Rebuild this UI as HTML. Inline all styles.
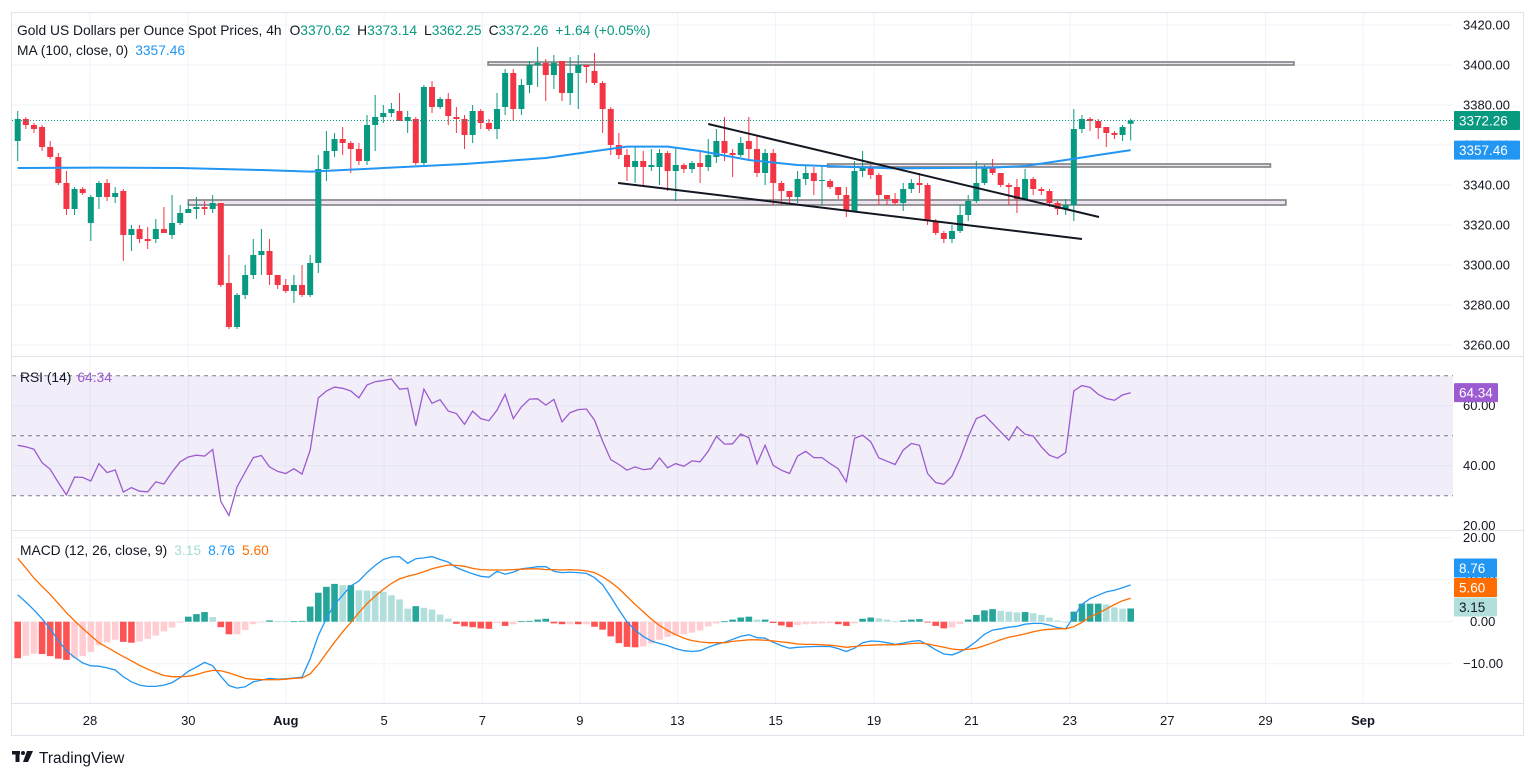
<!DOCTYPE html>
<html><head><meta charset="utf-8"><title>Gold 4h chart</title>
<style>
html,body{margin:0;padding:0;background:#fff;}
body{width:1536px;height:777px;overflow:hidden;font-family:"Liberation Sans",sans-serif;}
svg text{font-family:"Liberation Sans",sans-serif;}
</style></head>
<body>
<svg id="chart" width="1536" height="777" viewBox="0 0 1536 777" xmlns="http://www.w3.org/2000/svg">
  <rect x="0" y="0" width="1536" height="777" fill="#ffffff"/>
  <g id="grid"></g>
  <g id="zones"></g>
  <g id="candles"></g>
  <g id="overlays"></g>
  <g id="rsi"></g>
  <g id="macd"></g>
  <g id="axes"></g>
  <rect x="11.5" y="12.5" width="1512" height="723" fill="none" stroke="#e0e3eb" stroke-width="1"/>
  <line x1="12" y1="356.5" x2="1524" y2="356.5" stroke="#e0e3eb" stroke-width="1"/>
  <line x1="12" y1="530.5" x2="1524" y2="530.5" stroke="#e0e3eb" stroke-width="1"/>
  <line x1="12" y1="703.5" x2="1524" y2="703.5" stroke="#e0e3eb" stroke-width="1"/>
  <g font-size="13.8">
    <text x="17" y="35" fill="#131722">Gold US Dollars per Ounce Spot Prices, 4h<tspan dx="8" fill="#131722">O</tspan><tspan fill="#089981">3370.62</tspan><tspan dx="7" fill="#131722">H</tspan><tspan fill="#089981">3373.14</tspan><tspan dx="7" fill="#131722">L</tspan><tspan fill="#089981">3362.25</tspan><tspan dx="7" fill="#131722">C</tspan><tspan fill="#089981">3372.26</tspan><tspan dx="7" fill="#089981">+1.64 (+0.05%)</tspan></text>
    <text x="17" y="55" fill="#131722">MA (100, close, 0)<tspan dx="7" fill="#2196f3">3357.46</tspan></text>
    <text x="20" y="382" fill="#131722">RSI (14)<tspan dx="6" fill="#9c5bd0">64.34</tspan></text>
    <text x="20" y="555" fill="#131722">MACD (12, 26, close, 9)<tspan dx="7" fill="#a8ddd6">3.15</tspan><tspan dx="7" fill="#2196f3">8.76</tspan><tspan dx="7" fill="#ff6d00">5.60</tspan></text>
  </g>
  <g>
    <rect x="12" y="751" width="8" height="3.5" fill="#131722"/>
    <rect x="15.5" y="751" width="4" height="11" fill="#131722"/>
    <circle cx="23" cy="753" r="2" fill="#131722"/>
    <polygon points="27,751 33,751 28,762 23,762" fill="#131722"/>
    <text x="39" y="763" font-size="15.5" fill="#131722">TradingView</text>
  </g>
</svg>
<script>
// ---- data ----
const opens  = [3362,3373,3370,3369,3359,3354,3341,3328,3338,3321,3334,3341,3334,3337,3315,3318,3313,3313,3318,3315,3321,3326,3328,3329,3328,3331,3291,3269,3285,3295,3305,3307,3295,3290,3287,3290,3285,3301,3348,3357,3363,3361,3358,3352,3370,3374,3376,3377,3372,3373,3351,3389,3379,3383,3374,3373,3365,3377,3371,3368,3379,3396,3378,3390,3400,3401,3395,3402,3386,3396,3400,3397,3391,3378,3360,3355,3349,3352,3349,3349,3356,3347,3350,3348,3351,3349,3354,3362,3356,3355,3362,3358,3346,3356,3341,3337,3334,3343,3346,3342,3342,3339,3335,3327,3347,3349,3345,3335,3333,3331,3338,3341,3340,3322,3316,3313,3317,3325,3332,3341,3349,3346,3340,3339,3333,3343,3338,3337,3331,3328,3330,3368,3373,3372,3369,3366,3365,3370.62];
const highs  = [3377,3374,3371,3370,3362,3356,3347,3339,3339,3335,3342,3343,3339,3338,3320,3320,3319,3323,3329,3335,3330,3331,3334,3332,3335,3331,3305,3286,3300,3313,3318,3313,3295,3293,3295,3300,3305,3355,3367,3366,3369,3362,3361,3375,3385,3380,3381,3386,3377,3374,3390,3392,3384,3386,3379,3375,3380,3378,3373,3386,3398,3398,3393,3402,3409,3403,3405,3402,3404,3405,3400,3406,3392,3379,3366,3358,3359,3357,3358,3358,3357,3359,3351,3352,3357,3363,3368,3374,3358,3364,3374,3365,3358,3358,3342,3337,3347,3350,3349,3350,3343,3339,3339,3352,3357,3350,3346,3335,3336,3341,3343,3346,3341,3323,3317,3320,3330,3335,3352,3350,3353,3346,3341,3343,3348,3344,3339,3338,3332,3333,3378,3375,3374,3373,3369,3367,3370,3373.14];
const lows   = [3352,3368,3366,3357,3353,3340,3325,3325,3335,3312,3328,3332,3331,3302,3307,3311,3308,3311,3316,3313,3320,3326,3323,3325,3326,3289,3268,3268,3283,3293,3295,3290,3288,3286,3281,3284,3284,3296,3342,3354,3355,3346,3350,3350,3357,3371,3374,3372,3366,3350,3350,3376,3378,3370,3366,3358,3361,3368,3367,3363,3375,3372,3375,3386,3389,3382,3388,3382,3380,3378,3391,3390,3366,3355,3353,3342,3341,3340,3347,3340,3337,3332,3346,3346,3341,3347,3351,3352,3344,3354,3352,3344,3340,3330,3330,3330,3331,3340,3335,3330,3338,3333,3324,3327,3344,3343,3330,3330,3330,3327,3336,3336,3320,3315,3311,3311,3316,3322,3331,3340,3345,3339,3330,3326,3333,3335,3335,3329,3325,3325,3322,3366,3367,3363,3359,3363,3362,3362.25];
const closes = [3373,3370,3368,3359,3354,3341,3328,3338,3336,3334,3341,3334,3336,3315,3318,3313,3312,3318,3316,3321,3326,3328,3329,3328,3331,3290,3269,3285,3295,3305,3307,3295,3290,3287,3290,3285,3301,3348,3357,3363,3361,3358,3352,3370,3374,3376,3378,3372,3374,3351,3389,3379,3383,3374.5,3373,3365,3377,3371,3368,3378,3396,3378,3390,3400,3401,3395,3401,3386,3396,3400,3399,3391,3378,3360,3355,3349,3352,3349,3350,3356,3347,3350,3348,3351,3349,3355,3362,3356,3355,3361,3358,3346,3356,3341,3337,3334,3343,3346,3342,3342.5,3339,3335,3327,3347,3349,3345,3335,3333,3331,3338,3341,3340,3322,3316,3313,3317,3325,3332,3341,3349,3346,3340,3339,3333,3343,3338,3337,3331,3328,3330,3368,3373,3372,3368.5,3366,3365,3369,3372.26];

const maIdx = [0,10,20,30,36,45,55,65,72,75,80,84,90,96,108,120,124,129,133,137];
const maVal = [3348.5,3348.7,3348.5,3347.5,3346.7,3348.5,3350.5,3353.5,3357.5,3359.2,3359.2,3357,3352.5,3350,3348.3,3348.7,3349.5,3352.5,3355,3357.46];

const rsiVals = [46.8,46.3,45.5,41.0,38.8,34.4,30.3,36.2,36.1,34.9,40.7,37.7,38.6,31.2,32.7,31.5,31.3,34.6,33.9,37.9,41.3,42.9,43.5,43.2,45.4,28.1,23.4,32.9,37.9,42.7,43.4,39.6,38.1,37.4,39.0,37.2,45.2,62.6,64.9,66.2,65.8,64.9,62.6,66.9,68.0,68.4,68.9,65.5,65.8,53.3,65.5,60.8,62.0,58.2,57.4,53.8,58.2,55.7,55.0,58.5,63.8,55.7,59.6,62.2,62.3,60.2,62.1,54.6,57.7,58.7,58.9,55.2,48.2,42.0,40.4,38.5,39.6,38.7,39.0,42.6,39.3,40.7,39.8,41.6,41.3,44.8,49.8,47.2,47.3,50.6,49.3,40.6,46.8,40.1,38.5,37.4,43.2,44.8,42.7,42.7,40.7,39.0,34.6,49.1,50.2,48.0,42.6,41.5,40.4,45.2,47.4,46.8,37.4,34.4,33.8,36.5,42.4,49.6,55.7,56.9,54.1,51.3,48.5,53.0,50.5,49.9,46.3,43.5,42.5,44.4,64.9,66.7,66.1,63.8,62.4,61.8,63.6,64.34];

const macdVals = [6.4,4.7,2.8,0.7,-1.7,-4.5,-6.9,-8.5,-9.8,-10.5,-10.6,-11.0,-11.5,-13.1,-14.3,-15.1,-15.4,-15.4,-15.1,-14.5,-13.3,-11.8,-10.8,-9.7,-10.5,-13.0,-15.2,-15.8,-15.5,-14.3,-13.9,-13.5,-13.7,-13.6,-13.4,-13.2,-8.8,-3.3,0.8,4.1,6.3,8.5,9.7,11.7,13.4,14.8,15.4,15.5,13.9,15.0,15.2,15.5,14.8,14.2,12.9,12.1,11.4,10.8,10.6,12.0,11.3,11.8,12.6,12.8,13.1,13.1,12.0,11.7,11.8,11.7,11.5,10.5,8.8,5.9,2.8,0.0,-2.0,-3.5,-4.6,-5.2,-5.7,-6.4,-6.9,-7.1,-6.9,-6.1,-5.4,-4.9,-4.2,-3.5,-3.1,-3.8,-3.9,-4.9,-5.7,-6.3,-6.1,-6.0,-5.9,-5.9,-5.9,-6.4,-7.1,-6.3,-5.0,-4.6,-4.7,-5.0,-5.4,-5.1,-4.7,-4.5,-5.5,-6.7,-7.7,-7.9,-7.2,-6.1,-4.7,-3.0,-2.0,-1.7,-1.3,-1.1,-0.6,-0.4,-0.4,-0.8,-1.4,-1.7,1.2,4.1,5.5,6.3,7.1,7.5,8.1,8.7555];
const signalVals = [15.1,12.8,10.4,8.4,6.5,4.3,2.2,0.2,-1.6,-3.3,-5.0,-6.1,-7.2,-8.3,-9.3,-10.4,-11.3,-12.1,-12.8,-13.1,-13.1,-13.0,-12.6,-12.0,-11.6,-11.7,-12.2,-12.8,-13.5,-13.7,-13.8,-13.8,-13.8,-13.7,-13.5,-13.4,-12.4,-10.2,-7.5,-4.9,-2.4,-0.2,2.2,4.3,6.1,7.7,9.1,10.2,10.8,11.3,11.9,12.6,13.1,13.5,13.4,13.2,12.7,12.4,12.3,12.3,12.3,12.4,12.5,12.6,12.6,12.4,12.4,12.3,12.4,12.3,12.1,11.7,10.7,9.4,7.9,6.0,4.1,2.4,0.6,-0.9,-2.1,-3.1,-3.9,-4.5,-4.8,-5.0,-5.0,-5.0,-4.7,-4.5,-4.3,-4.3,-4.4,-4.6,-4.8,-5.0,-5.3,-5.4,-5.4,-5.5,-5.6,-5.8,-6.1,-5.9,-5.7,-5.6,-5.5,-5.5,-5.5,-5.4,-5.2,-5.1,-5.3,-5.7,-6.1,-6.5,-6.7,-6.6,-6.3,-5.7,-5.0,-4.3,-3.7,-3.3,-2.9,-2.4,-2.0,-1.8,-1.7,-1.7,-1.2,-0.2,1.2,2.0,3.0,4.1,5.0,5.604];

const zoneStart = [57.9, 99.7, 21.0];
const zoneEnd   = [157.1, 154.2, 156.1];
const zoneTop   = [3401.5, 3350.5, 3332.5];
const zoneBot   = [3400.0, 3349.0, 3330.0];

const trendStartIdx = [85.0, 73.9];
const trendStartPx  = [3370.5, 3341];
const trendEndIdx   = [133.1, 131.0];
const trendEndPx    = [3324, 3313];

const priceTicks = [3420,3400,3380,3360,3340,3320,3300,3280,3260];
const rsiTicks = [60,40,20];
const macdTicks = [20,10,0,-10];
const timeLabels = ["28","30","Aug","5","7","9","13","15","19","21","23","27","29","Sep"];
const timeIdx = [8.9,21.0,33.0,45.1,57.2,69.2,81.2,93.3,105.4,117.4,129.5,141.5,153.6,165.6];

// ---- axis functions ----
const PLOT_L = 12, PLOT_R = 1453;
function xi(i){ return 17.7 + 8.124 * i; }
function yP(p){ return 25 + (3420 - p) * 2; }
function yR(v){ return 375.7 + (70 - v) * 3; }
function yM(v){ return 621.7 - v * 4.2; }

const NS = "http://www.w3.org/2000/svg";
function mk(tag, parent, attrs){
  const el = document.createElementNS(NS, tag);
  for (const k in attrs) el.setAttribute(k, attrs[k]);
  parent.appendChild(el);
  return el;
}
const gGrid = document.getElementById('grid');
const gZones = document.getElementById('zones');
const gC = document.getElementById('candles');
const gO = document.getElementById('overlays');
const gR = document.getElementById('rsi');
const gM = document.getElementById('macd');
const gA = document.getElementById('axes');

// grid
priceTicks.forEach(p => {
  const l = mk('line', gGrid, {x1:PLOT_L, x2:PLOT_R, y1:yP(p), y2:yP(p), stroke:'#f0f3fa', 'stroke-width':1});
  
  
});
rsiTicks.slice(0,2).forEach(v => {
  const l = mk('line', gGrid, {x1:PLOT_L, x2:PLOT_R, y1:yR(v), y2:yR(v), stroke:'#f0f3fa', 'stroke-width':1});
  
  
});
macdTicks.forEach(v => {
  const l = mk('line', gGrid, {x1:PLOT_L, x2:PLOT_R, y1:yM(v), y2:yM(v), stroke:'#f0f3fa', 'stroke-width':1});
  
  
});
timeIdx.forEach(t => {
  const l = mk('line', gGrid, {x1:xi(t), x2:xi(t), y1:13, y2:703, stroke:'#f0f3fa', 'stroke-width':1});
  
  
});

// RSI band
const band = mk('rect', gR, {x:PLOT_L, y:yR(70), width:PLOT_R-PLOT_L, height:yR(30)-yR(70), fill:'rgba(126,87,194,0.1)'});


[70,50,30].forEach(v => {
  const l = mk('line', gR, {x1:PLOT_L, x2:PLOT_R, y1:yR(v), y2:yR(v), stroke:'#787b86', 'stroke-width':1, 'stroke-dasharray':'4,4'});
  
  
});

// zones
for (let k = 0; k < zoneStart.length; k++){
  const r = mk('rect', gZones, {x:xi(zoneStart[k]), y:yP(zoneTop[k]), width:xi(zoneEnd[k])-xi(zoneStart[k]), height:Math.max(2, yP(zoneBot[k])-yP(zoneTop[k])), fill:'#ece4f0', stroke:'#808080', 'stroke-width':1.6});
  
  
}

// MA line
let maPts = maIdx.map((i,k) => xi(i).toFixed(1) + ',' + yP(maVal[k]).toFixed(1)).join(' ');
const maLine = mk('polyline', gO, {points: maPts, fill:'none', stroke:'#2196f3', 'stroke-width':2, 'stroke-linejoin':'round'});



// candles
for (let i = 0; i < closes.length; i++){
  const up = closes[i] >= opens[i];
  const col = up ? '#089981' : '#f23645';
  const x = xi(i);
  const w = mk('line', gC, {x1:x, x2:x, y1:yP(highs[i]), y2:yP(lows[i]), stroke:col, 'stroke-width':1});
  
  
  const top = yP(Math.max(opens[i], closes[i])), bot = yP(Math.min(opens[i], closes[i]));
  const b = mk('rect', gC, {x:x-3, y:top, width:6, height:Math.max(1, bot-top), fill:col});
  
  
}

// trendlines
for (let k = 0; k < trendStartIdx.length; k++){
  const l = mk('line', gO, {x1:xi(trendStartIdx[k]), y1:yP(trendStartPx[k]), x2:xi(trendEndIdx[k]), y2:yP(trendEndPx[k]), stroke:'#131722', 'stroke-width':2});
  
  
}

// last price line
const lastP = closes[closes.length-1];
const lp = mk('line', gO, {x1:PLOT_L, x2:PLOT_R, y1:yP(lastP), y2:yP(lastP), stroke:'#089981', 'stroke-width':1, 'stroke-dasharray':'1,2'});



// RSI line
const rsiPts = rsiVals.map((v,i) => xi(i).toFixed(1) + ',' + yR(v).toFixed(1)).join(' ');
const rl = mk('polyline', gR, {points: rsiPts, fill:'none', stroke:'#9c5bd0', 'stroke-width':1.3});



// MACD histogram
let prevH = null;
for (let i = 0; i < macdVals.length; i++){
  const h = macdVals[i] - signalVals[i];
  let col;
  if (h >= 0) col = (prevH === null || h >= prevH) ? '#26a69a' : '#b2dfdb';
  else col = (prevH === null || h < prevH) ? '#ff5252' : '#ffcdd2';
  prevH = h;
  const y0 = yM(0), y1 = yM(h);
  const r = mk('rect', gM, {x:xi(i)-3.3, y:Math.min(y0,y1), width:6.6, height:Math.max(0.8, Math.abs(y1-y0)), fill:col});
  
  
}
const mPts = macdVals.map((v,i) => xi(i).toFixed(1) + ',' + yM(v).toFixed(1)).join(' ');
const ml = mk('polyline', gM, {points:mPts, fill:'none', stroke:'#2196f3', 'stroke-width':1.3});


const sPts = signalVals.map((v,i) => xi(i).toFixed(1) + ',' + yM(v).toFixed(1)).join(' ');
const sl = mk('polyline', gM, {points:sPts, fill:'none', stroke:'#ff6d00', 'stroke-width':1.3});



// axis labels
function axisText(x, y, s, name, opts){
  const t = mk('text', gA, Object.assign({x:x, y:y, 'font-size':13, fill:'#131722'}, opts||{}));
  t.textContent = s;
  return t;
}
priceTicks.forEach(p => {
  const t = axisText(1463, yP(p)+4.5, p.toFixed(2));
  
  
});
rsiTicks.forEach(v => {
  const t = axisText(1463, yR(v)+4.5, v.toFixed(2));
  
  
});
macdTicks.forEach(v => {
  const s = v < 0 ? '\u2212' + Math.abs(v).toFixed(2) : v.toFixed(2);
  const t = axisText(v < 0 ? 1463 : (v >= 10 ? 1463 : 1470), yM(v)+4.5, s);
  
  
});
timeLabels.forEach((s,k) => {
  const bold = (s === 'Aug' || s === 'Sep');
  const t = axisText(xi(timeIdx[k]), 725, s, 'time', {'text-anchor':'middle', 'font-weight': bold ? 'bold' : 'normal'});
  
  
});

// value badges
function badge(y, txt, bg, fg, name, w){
  const g = mk('g', gA, {});
  
  
  mk('rect', g, {x:1454, y:y-9.5, width:w||66, height:19, fill:bg, rx:1});
  const t = mk('text', g, {x:1459, y:y+5, 'font-size':13.5, fill:fg});
  t.textContent = txt;
}
badge(yP(lastP), lastP.toFixed(2), '#089981', '#ffffff', 'last-price-badge');
badge(yP(maVal[maVal.length-1]), maVal[maVal.length-1].toFixed(2), '#2196f3', '#ffffff', 'ma-value-badge');
badge(yR(rsiVals[rsiVals.length-1]), rsiVals[rsiVals.length-1].toFixed(2), '#9c5bd0', '#ffffff', 'rsi-value-badge', 44);
const lastM = macdVals[macdVals.length-1], lastS = signalVals[signalVals.length-1];
const lastH = lastM - lastS;
badge(568, lastM.toFixed(2), '#2196f3', '#ffffff', 'macd-value-badge', 43);
badge(587.5, lastS.toFixed(2), '#ff6d00', '#ffffff', 'signal-value-badge', 43);
badge(607, lastH.toFixed(2), '#b2dfdb', '#131722', 'histogram-value-badge', 43);
</script>
</body></html>
